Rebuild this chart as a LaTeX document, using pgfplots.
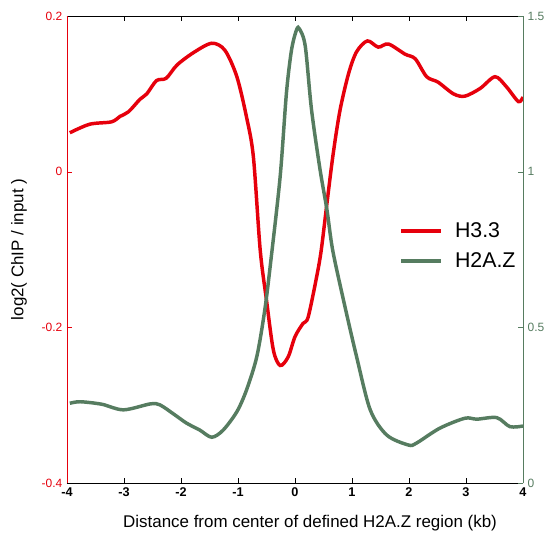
\documentclass[border=0pt]{standalone}
\usepackage{pgfplots}
\pgfplotsset{compat=1.18}
\usepackage{fontspec}
\setmainfont{Liberation Sans}
\definecolor{hred}{RGB}{230,0,12}
\definecolor{hgreen}{RGB}{86,124,96}

\begin{document}
\begin{tikzpicture}[x=0.75pt,y=0.75pt]
  \useasboundingbox (-67,-52) rectangle (482,483);

  % left axis: H3.3
  \begin{axis}[
      at={(0,0)}, anchor=south west,
      scale only axis, width=342pt, height=350.25pt,
      xmin=-4, xmax=4, ymin=-0.4, ymax=0.2,
      xtick={-4,-3,...,4}, ytick={-0.4,-0.2,0,0.2},
      ytick pos=left, tick align=inside,
      separate axis lines,
      x axis line style={black},
      y axis line style={hred},
      every outer y axis line/.append style={hred},
      ytick style={hred}, xtick style={black},
      major tick length=4pt,
      /pgf/number format/assume math mode=true,
      xticklabel style={font=\fontsize{9.5}{10}\selectfont\bfseries},
      yticklabel style={font=\fontsize{9}{10}\selectfont, text=hred},
      xlabel={Distance from center of defined H2A.Z region (kb)},
      ylabel={log2( ChIP / input )},
      xlabel style={font=\fontsize{12.7}{14}\selectfont, at={(axis description cs:0.533,-0.086)}, anchor=center},
      ylabel style={font=\fontsize{12.7}{14}\selectfont, at={(axis description cs:-0.105,0.5)}, anchor=center},
    ]
    \addplot[hred, line width=2.6pt, smooth] coordinates {
      (-3.95,0.050) (-3.6,0.061) (-3.22,0.064) (-3.07,0.071) (-2.92,0.077)
      (-2.72,0.093) (-2.60,0.100) (-2.43,0.117) (-2.26,0.120) (-2.07,0.137)
      (-1.78,0.153) (-1.46,0.165) (-1.23,0.156) (-1.02,0.122) (-0.85,0.070)
      (-0.73,0.019) (-0.61,-0.101) (-0.50,-0.165) (-0.38,-0.229) (-0.26,-0.249)
      (-0.12,-0.238) (0.0,-0.212) (0.14,-0.195) (0.23,-0.187) (0.38,-0.135)
      (0.46,-0.101) (0.56,-0.041) (0.67,0.023) (0.79,0.079) (0.94,0.126)
      (1.08,0.154) (1.27,0.168) (1.46,0.160) (1.64,0.164) (1.93,0.151)
      (2.11,0.145) (2.31,0.122) (2.51,0.115) (2.78,0.100) (2.98,0.097)
      (3.25,0.107) (3.51,0.122) (3.71,0.109) (3.92,0.090) (4.0,0.096)
    };
  \end{axis}

  % right axis: H2A.Z
  \begin{axis}[
      at={(0,0)}, anchor=south west,
      scale only axis, width=342pt, height=350.25pt,
      xmin=-4, xmax=4, ymin=0, ymax=1.5,
      ytick={0,0.5,1,1.5},
      axis y line*=right, axis x line=none,
      tick align=inside, major tick length=4pt,
      y axis line style={hgreen}, ytick style={hgreen},
      /pgf/number format/assume math mode=true,
      yticklabel style={font=\fontsize{9}{10}\selectfont, text=hgreen},
      legend style={draw=none, fill=none, at={(axis description cs:0.72,0.57)}, anchor=north west,
        font=\fontsize{16}{18}\selectfont, row sep=6pt},
      legend cell align=left,
      legend image code/.code={\draw[#1] (0pt,0pt) -- (30pt,0pt); \path (37pt,0pt);},
    ]
    \addlegendimage{hred, line width=2.6pt}
    \addlegendentry{H3.3}
    \addplot[hgreen, line width=2.6pt, smooth] coordinates {
      (-3.95,0.256) (-3.77,0.261) (-3.39,0.253) (-3.01,0.235) (-2.54,0.254)
      (-2.37,0.251) (-2.11,0.219) (-1.90,0.192) (-1.67,0.170) (-1.46,0.147)
      (-1.26,0.170) (-1.02,0.229) (-0.85,0.299) (-0.67,0.406) (-0.53,0.556)
      (-0.42,0.720) (-0.26,0.985) (-0.15,1.253) (-0.06,1.392)
      (0.03,1.457) (0.08,1.458) (0.18,1.403) (0.29,1.199) (0.44,1.006)
      (0.56,0.878) (0.66,0.749) (0.85,0.588) (1.08,0.406) (1.32,0.235)
      (1.61,0.154) (1.99,0.122) (2.13,0.128) (2.54,0.176) (2.98,0.208)
      (3.19,0.205) (3.54,0.210) (3.77,0.181) (4.0,0.183)
    };
    \addlegendentry{H2A.Z}
  \end{axis}
\end{tikzpicture}
\end{document}
